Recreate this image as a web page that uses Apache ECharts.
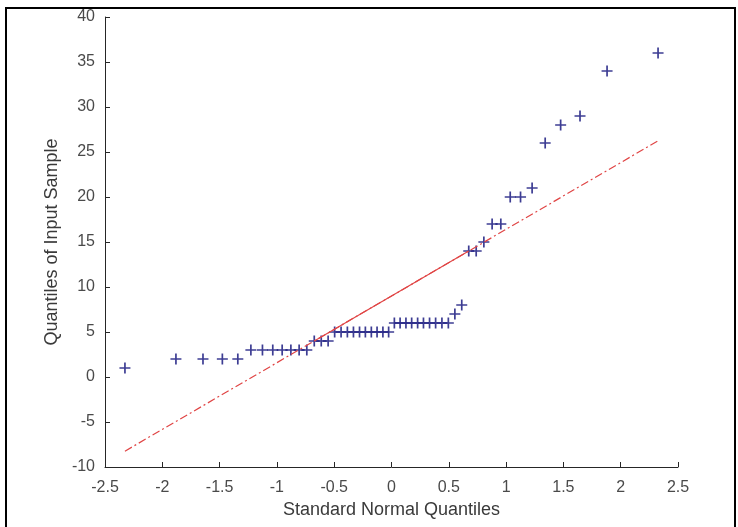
<!DOCTYPE html>
<html><head><meta charset="utf-8">
<script src="https://cdn.jsdelivr.net/npm/echarts@6/dist/echarts.min.js"></script>
<style>html,body{margin:0;padding:0;background:#fff}#c{width:738px;height:527px}</style>
</head><body><div id="c"></div>
<script>
// Standard normal quantiles (x) of the 50 sorted samples
const quantileX = [-2.326,-1.881,-1.645,-1.476,-1.341,-1.227,-1.126,-1.036,-0.954,-0.878,
  -0.806,-0.739,-0.674,-0.613,-0.553,-0.496,-0.440,-0.385,-0.332,-0.279,
  -0.228,-0.176,-0.126,-0.075,-0.025,0.025,0.075,0.126,0.176,0.228,
  0.279,0.332,0.385,0.440,0.496,0.553,0.613,0.674,0.739,0.806,
  0.878,0.954,1.036,1.126,1.227,1.341,1.476,1.645,1.881,2.326];
// Quantiles of input sample (sorted data)
const sampleY = [1,2,2,2,2,3,3,3,3,3,
  3,3,4,4,4,5,5,5,5,5,
  5,5,5,5,5,6,6,6,6,6,
  6,6,6,6,6,7,8,14,14,15,
  17,17,20,20,21,26,28,29,34,36];
// Reference line: extended (dash-dot) and between quartiles (solid)
const fitX = [-2.326, 2.326];
const fitY = [-8.24, 26.24];
const quartileX = [-0.674, 0.674];
const quartileY = [4, 14];
// Axis ranges
const xRange = [-2.5, 2.5, 0.5];
const yRange = [-10, 40, 5];
const xName = 'Standard Normal Quantiles';
const yName = 'Quantiles of Input Sample';

const FONT = "'Liberation Sans', Arial, sans-serif";
const chart = echarts.init(document.getElementById('c'), null, {renderer: 'canvas'});
const axisCommon = {
  axisLine: {show: true, onZero: false, lineStyle: {color: '#262626', width: 1}},
  axisTick: {show: true, inside: true, length: 5, lineStyle: {color: '#262626'}},
  splitLine: {show: false},
  nameLocation: 'middle',
  nameTextStyle: {fontFamily: FONT, fontSize: 18, color: '#3a3a3a'},
};
chart.setOption({
  animation: false,
  backgroundColor: '#fff',
  graphic: [{
    type: 'rect', silent: true, z: -10,
    shape: {x: 6, y: 8, width: 729, height: 530},
    style: {fill: 'none', stroke: '#000', lineWidth: 2}
  }],
  grid: {left: 105, right: 60, top: 17, bottom: 60},
  xAxis: Object.assign({}, axisCommon, {
    type: 'value', min: xRange[0], max: xRange[1], interval: xRange[2],
    name: xName, nameGap: 33,
    axisLabel: {fontFamily: FONT, fontSize: 16, color: '#4a4a4a', margin: 13}
  }),
  yAxis: Object.assign({}, axisCommon, {
    type: 'value', min: yRange[0], max: yRange[1], interval: yRange[2],
    name: yName, nameGap: 37,
    axisLabel: {fontFamily: FONT, fontSize: 16, color: '#4a4a4a', margin: 10}
  }),
  series: [
    {
      type: 'line', data: fitX.map((x, i) => [x, fitY[i]]),
      symbol: 'none', silent: true,
      lineStyle: {color: '#e04545', width: 1.2, type: [8, 3, 2, 3]}
    },
    {
      type: 'line', data: quartileX.map((x, i) => [x, quartileY[i]]),
      symbol: 'none', silent: true,
      lineStyle: {color: '#e04545', width: 1.2}
    },
    {
      type: 'scatter', data: quantileX.map((x, i) => [x, sampleY[i]]),
      symbol: 'path://M0,5L10,5M5,0L5,10', symbolSize: 11,
      itemStyle: {color: 'none', borderColor: '#0c0c78', borderWidth: 1.7}
    }
  ]
});
</script></body></html>
